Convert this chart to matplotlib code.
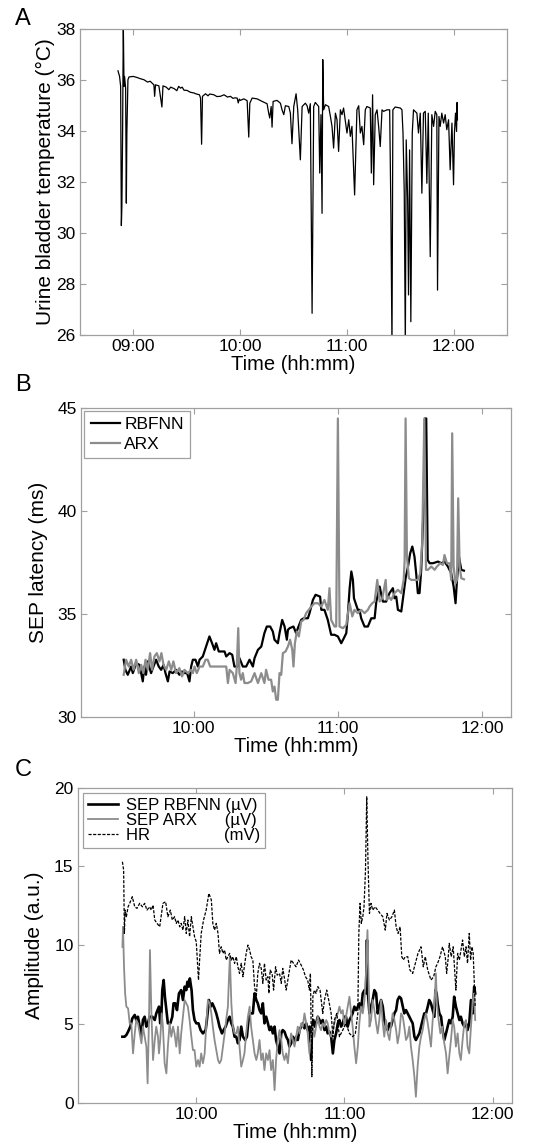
import numpy as np
import matplotlib
matplotlib.use("Agg")
import matplotlib.pyplot as plt
from matplotlib.ticker import FuncFormatter

plt.rcParams['font.family'] = ['Liberation Sans', 'DejaVu Sans']

# ---- panel A: urine bladder temperature (time in minutes after 08:00) ----
a_min = [51.4, 52.3, 52.9, 53.3, 53.6, 54.0, 54.4, 54.8, 55.1, 55.7, 56.1, 56.4, 57.0, 57.6,
         60.0, 62.0, 64.0, 66.0, 68.0, 69.5, 71.0, 71.6, 72.0, 72.5, 74.4, 76.1, 76.7, 78.5,
         80.0, 81.0, 83.0, 84.5, 85.5, 86.6, 87.5, 88.5, 90.3, 92.0, 94.1, 95.5, 97.2,
         97.8, 98.4, 98.9, 100.6, 102.0, 103.0, 105.3, 107.0, 109.0, 111.0, 113.0, 114.6,
         116.0, 117.2, 118.4, 119.0, 119.6, 120.2, 122.1, 124.0, 124.9, 125.5,
         126.8, 129.6, 133.3, 135.2, 136.1, 136.7, 137.5, 138.0, 138.6, 140.8, 142.7, 143.6,
         144.6, 145.5, 147.4, 148.3, 149.2, 150.2, 151.5, 152.4, 153.9, 154.9, 156.7, 157.7,
         158.6, 159.5, 160.5, 161.4, 162.3, 164.2, 164.8, 165.5, 166.1, 166.5, 167.0, 168.0,
         169.8, 170.8, 171.7, 172.6, 173.6, 174.5, 175.4, 176.4, 177.3, 178.2, 180.1, 181.1,
         182.0, 182.9, 184.4, 185.0, 185.7, 186.7, 187.6, 188.5, 189.5, 190.4, 191.3, 193.2,
         193.8, 194.5, 195.1, 196.0, 197.0, 197.9, 198.8, 199.8, 200.7, 202.6, 204.1, 204.8,
         205.4, 205.9, 207.2, 210.1, 211.0, 211.6, 212.3, 212.9, 213.4, 214.2, 214.7, 215.3,
         216.0, 216.8, 217.5, 219.4, 220.3, 221.3, 222.2, 223.1, 224.1, 225.0, 225.8, 226.9,
         227.8, 228.8, 229.7, 230.6, 231.0, 231.8, 232.5, 233.4, 234.4, 235.3, 236.2, 237.2,
         238.1, 239.1, 240.0, 240.5, 241.1, 241.7, 242.0, 242.2]
a_temp = [36.36, 36.14, 35.75, 30.29, 31.04, 33.92, 38.2, 35.75, 36.14, 35.68, 31.17, 33.92, 36.01, 36.12,
          36.14, 36.10, 36.05, 36.01, 35.92, 35.95, 35.85, 35.81, 35.36, 35.81, 35.77, 34.94, 35.77, 35.72,
          35.62, 35.72, 35.66, 35.58, 35.75, 35.68, 35.72, 35.60, 35.59, 35.52, 35.49, 35.45, 35.42,
          35.29, 33.48, 35.36, 35.46, 35.38, 35.45, 35.42, 35.35, 35.36, 35.42, 35.33, 35.36,
          35.28, 35.30, 35.29, 35.10, 35.25, 35.20, 35.26, 35.19, 33.76, 35.09,
          35.29, 35.26, 35.13, 35.07, 34.70, 34.51, 34.96, 34.15, 35.16, 35.20, 35.09, 34.83,
          34.64, 34.99, 34.96, 34.70, 33.50, 34.96, 35.46, 34.83, 32.87, 34.96, 35.09, 34.99,
          34.70, 35.07, 26.85, 34.96, 35.12, 34.96, 32.35, 34.64, 30.77, 36.80, 34.83, 35.03,
          34.96, 34.57, 34.18, 33.33, 34.70, 34.44, 33.20, 34.83, 34.64, 34.90, 33.92, 34.44,
          33.79, 34.18, 31.49, 33.00, 34.83, 34.99, 33.92, 34.18, 33.46, 34.83, 34.96, 34.90,
          32.35, 35.42, 31.89, 34.64, 34.83, 34.18, 33.39, 34.83, 34.77, 34.83, 34.83, 30.77,
          25.5, 34.83, 34.94, 34.90, 34.83, 33.92, 31.56, 25.5, 33.65, 31.30, 27.57, 33.26,
          26.52, 33.92, 34.83, 34.70, 33.92, 34.70, 31.56, 34.70, 34.77, 31.95, 34.70, 29.07,
          34.64, 34.18, 34.77, 34.64, 27.76, 34.57, 34.18, 34.70, 34.31, 34.64, 34.05, 34.44,
          32.48, 34.31, 31.89, 33.92, 34.70, 33.98, 35.12, 34.44]

# ---- panel B: SEP latency (time in minutes after 09:00) ----
b_rbf_min = [30.8, 31.5, 32.5, 33.9, 34.6, 36.0, 37.4, 38.75, 39.4, 40.1, 40.8, 42.2, 43.2, 44.3,
             45.4, 46.4, 47.4, 48.2, 49.2, 49.9, 51.25, 52.6, 54.0, 55.1, 56.1, 57.2, 58.2, 58.9,
             59.6, 60.7, 61.7, 62.4, 63.75, 65.1, 66.5, 67.6, 68.6, 69.3, 70.4, 71.4, 72.8, 73.5,
             74.9, 76.0, 76.9, 78.3, 79.0, 80.4, 81.8, 83.2, 84.6, 85.3, 86.7, 88.1, 89.4, 90.4,
             91.8, 92.9, 93.6, 95.0, 95.7, 96.8, 97.8, 98.75, 99.2, 99.9, 101.5, 102.6, 103.6,
             104.7, 105.7, 107.5, 108.2, 108.9, 109.6, 110.7, 112.6, 113.1, 114.4, 115.8, 117.2,
             118.6, 120.0, 121.4, 122.5, 123.5, 124.2, 124.9, 125.6, 126.25, 126.7, 127.4, 128.3,
             129.0, 129.7, 131.1, 132.5, 133.9, 135.3, 136.0, 137.4, 138.1, 138.75, 140.1, 141.5,
             142.9, 143.6, 144.3, 145.0, 146.4, 147.1, 148.2, 149.2, 150.1, 151.0, 151.9, 152.6,
             153.3, 154.0, 154.7, 155.7, 156.25, 156.8, 157.4, 158.2, 159.6, 161.7, 163.1, 164.4,
             165.8, 167.2, 168.2, 169.0, 169.6, 170.4, 171.4, 172.5]
b_rbf = [32.78, 32.29, 32.05, 32.45, 32.13, 32.61, 32.53, 31.73, 32.45, 32.05, 32.70, 32.13, 32.45, 32.78,
         32.45, 32.29, 32.53, 32.13, 31.73, 32.21, 32.13, 32.29, 32.05, 32.21, 32.13, 32.13, 31.73, 32.45,
         32.78, 32.78, 32.45, 32.78, 32.94, 33.42, 33.91, 33.58, 33.26, 33.58, 33.18, 33.18, 33.18, 32.94,
         33.10, 33.02, 32.45, 32.45, 32.86, 32.45, 32.45, 32.78, 32.45, 32.86, 33.26, 33.42, 34.07, 34.39,
         34.39, 34.15, 33.75, 33.58, 34.07, 34.71, 34.39, 33.75, 34.23, 34.31, 34.39, 34.07, 34.39,
         34.71, 34.79, 34.79, 35.04, 35.36, 35.68, 35.93, 35.84, 35.20, 35.20, 34.71, 33.99,
         33.99, 33.91, 33.58, 33.83, 34.07, 35.04, 36.25, 37.06, 36.65, 35.76, 35.52, 35.20,
         35.20, 34.79, 34.39, 34.39, 34.79, 34.79, 35.60, 36.33, 35.93, 35.60, 35.60, 36.01,
         36.25, 35.76, 35.84, 35.20, 35.12, 35.76, 36.73, 37.30, 37.94, 38.27, 37.78, 36.97,
         36.01, 36.01, 37.14, 40.20, 44.48, 44.48, 37.62, 37.46, 37.46, 37.54, 37.46, 37.54,
         37.30, 36.97, 36.33, 35.52, 36.65, 37.78, 37.14, 37.10]
b_arx_min = [30.8, 31.8, 32.9, 33.9, 34.9, 36.0, 37.1, 38.1, 39.0, 39.9, 40.8, 41.8, 42.6, 43.6,
             44.6, 45.7, 46.5, 47.4, 48.5, 49.6, 50.6, 51.5, 52.6, 54.0, 55.1, 56.1, 57.5, 58.9,
             59.6, 60.3, 61.25, 62.4, 63.75, 64.9, 65.8, 66.8, 67.9, 70.7, 73.5, 74.2, 74.9, 76.25,
             77.4, 77.9, 78.5, 79.0, 79.7, 80.4, 81.1, 82.5, 83.9, 85.3, 86.7, 88.1, 89.4, 90.1,
             91.1, 92.2, 92.9, 93.6, 94.3, 95.0, 95.7, 96.4, 97.1, 98.2, 99.2, 100.1, 101.0, 101.5,
             102.1, 102.9, 103.75, 104.7, 105.7, 106.8, 107.9, 108.9, 110.3, 111.7, 113.1, 114.4,
             115.8, 116.5, 117.2, 118.6, 119.3, 120.0, 120.7, 122.1, 123.5, 124.2, 124.9, 126.0,
             126.9, 128.3, 129.7, 131.1, 132.5, 133.2, 134.3, 135.3, 136.4, 137.4, 138.5, 139.9,
             140.4, 141.25, 142.2, 143.6, 145.0, 146.4, 147.4, 147.8, 148.2, 148.75, 149.6, 150.6,
             151.9, 153.3, 154.3, 155.1, 156.0, 156.7, 157.5, 158.9, 160.3, 161.25, 162.6, 163.75,
             164.4, 165.4, 166.5, 167.2, 167.6, 168.2, 169.0, 169.6, 170.1, 170.7, 171.4, 172.5]
b_arx = [32.05, 32.78, 32.45, 32.78, 32.29, 32.78, 32.13, 32.53, 32.13, 32.78, 32.29, 33.10, 32.29, 32.94,
         33.10, 32.70, 33.10, 32.53, 32.29, 32.70, 32.29, 32.70, 32.13, 32.37, 31.97, 32.29, 32.13, 32.29,
         32.13, 32.45, 32.13, 32.45, 32.45, 32.78, 32.78, 32.45, 32.45, 32.45, 32.45, 31.65, 32.29, 32.13,
         31.65, 32.45, 34.31, 32.13, 31.81, 32.13, 31.65, 31.65, 31.73, 32.13, 31.65, 32.13, 31.65, 32.29,
         31.81, 31.81, 31.24, 31.48, 30.84, 30.84, 32.13, 32.05, 33.10, 33.18, 33.42, 33.75, 33.26, 32.45,
         33.58, 34.15, 33.91, 34.63, 34.71, 35.04, 35.20, 35.36, 35.52, 35.52, 35.36, 35.68,
         35.20, 36.25, 34.71, 34.39, 34.39, 44.48, 34.39, 34.31, 34.47, 35.04, 35.52, 34.88,
         35.20, 35.04, 35.20, 35.04, 35.20, 35.36, 35.52, 35.60, 36.65, 35.60, 35.76, 36.65,
         35.68, 35.84, 35.68, 36.01, 36.17, 36.01, 36.65, 37.62, 44.48, 37.78, 36.73, 36.65,
         36.65, 36.65, 36.97, 38.43, 44.48, 37.14, 37.14, 37.30, 37.14, 37.30, 37.46, 37.38,
         37.86, 37.46, 37.46, 36.65, 43.76, 37.30, 36.49, 36.65, 40.61, 37.30, 36.73, 36.68]

# ---- panel C: amplitudes (time in minutes after 09:00) ----
c_hr_min = [30.1, 30.6, 30.9, 31.2, 31.7, 32.4, 33.05, 34.1, 35.1, 36.0, 37.1, 38.2, 39.1, 40.05,
            41.1, 41.8, 42.5, 43.2, 44.1, 45.2, 46.5, 47.6, 48.5, 49.5, 50.3, 51.2, 51.9, 52.6,
            53.3, 53.9, 54.6, 55.3, 55.95, 56.6, 57.3, 58.0, 58.65, 59.3, 60.0, 60.9, 61.35, 62.0,
            62.95, 64.0, 65.1, 66.1, 66.7, 67.4, 68.1, 68.8, 69.4, 70.1, 70.8, 71.5, 72.1, 73.5,
            74.2, 74.8, 75.5, 76.2, 76.85, 77.5, 78.2, 78.9, 80.2, 80.9, 81.6, 82.2, 82.9, 83.6,
            84.3, 84.9, 85.6, 86.3, 86.95, 87.6, 88.3, 89.0, 89.4, 89.9, 90.7, 91.3, 92.1, 92.75,
            93.7, 94.4, 95.0, 95.7, 96.4, 97.5, 98.4, 99.35, 100.4, 101.4, 102.45, 103.4, 104.2,
            105.1, 105.8, 106.2, 106.8, 107.2, 107.8, 108.5, 109.2, 110.1, 111.2, 111.9, 112.8,
            113.6, 114.6, 115.3, 115.9, 116.9, 117.95, 119.3, 120.6, 122.0, 123.3, 124.4, 125.4,
            125.8, 126.3, 126.8, 127.4, 127.9, 128.5, 129.0, 129.5, 130.1, 130.75, 131.4, 132.4,
            133.45, 134.4, 135.5, 136.5, 137.2, 138.2, 139.2, 140.2, 140.9, 141.7, 142.5, 143.2,
            143.8, 144.6, 145.6, 146.5, 147.6, 148.7, 149.75, 150.97, 151.9, 152.7, 153.7, 155.0,
            156.1, 157.0, 157.7, 158.65, 159.7, 160.8, 161.35, 161.9, 162.4, 163.2, 164.0, 165.1,
            165.8, 166.5, 167.8, 168.5, 169.2, 169.8, 170.5, 171.05, 171.6, 172.1, 172.7, 172.9]
c_hr = [15.3, 14.77, 10.75, 12.23, 11.81, 12.44, 12.66, 13.08, 12.44, 12.34, 12.66, 12.44, 12.66, 12.23,
        12.44, 12.23, 12.55, 11.6, 11.39, 11.17, 12.66, 12.76, 11.81, 12.23, 11.6, 11.81, 11.39, 11.6,
        11.17, 11.39, 10.96, 11.81, 10.75, 11.6, 10.54, 11.81, 11.17, 10.54, 10.22, 7.79, 9.06, 10.75,
        11.6, 12.23, 13.29, 12.87, 11.39, 10.96, 11.39, 10.75, 9.48, 9.9, 9.48, 9.69, 9.06, 9.48,
        9.06, 9.27, 8.85, 9.27, 8.63, 8.21, 8.85, 8.0, 9.48, 10.01, 9.69, 9.27, 9.06, 7.37,
        6.73, 8.21, 8.85, 8.53, 7.58, 8.85, 7.79, 8.0, 6.94, 8.42, 8.21, 7.15, 8.63, 8.1,
        8.21, 7.58, 8.53, 7.89, 7.15, 8.21, 9.06, 8.85, 8.63, 9.06, 8.74, 8.42, 8.0,
        7.79, 7.15, 8.21, 1.65, 6.73, 7.15, 6.94, 7.37, 7.15, 5.67, 6.52, 7.15,
        6.52, 5.67, 4.19, 5.25, 5.67, 4.19, 4.61, 5.04, 4.4, 4.19, 4.4, 5.67,
        10.75, 12.66, 11.39, 11.81, 12.44, 14.77, 19.43, 15.41, 12.02, 12.66, 12.23, 12.44,
        12.23, 12.02, 11.81, 10.96, 12.02, 11.6, 11.81, 12.23, 11.17, 10.75, 11.17, 9.27,
        9.06, 9.27, 9.27, 8.42, 8.21, 8.85, 9.48, 9.9, 8.63, 9.27, 8.42, 7.79,
        8.0, 8.63, 8.85, 9.27, 9.9, 9.27, 8.21, 9.06, 10.12, 9.27, 9.9, 7.15,
        9.48, 9.06, 10.33, 9.27, 9.9, 8.85, 10.75, 9.06, 9.9, 9.48, 6.94, 6.1]
c_rbf_min = [30.1, 31.0, 31.7, 32.4, 33.3, 34.1, 35.1, 35.7, 36.4, 37.1, 37.8, 38.4, 39.1, 39.8,
             40.45, 41.1, 42.2, 43.2, 43.8, 44.9, 45.4, 45.85, 46.25, 46.8, 47.3, 47.9, 48.5, 49.5,
             50.3, 50.8, 51.5, 52.2, 53.0, 53.9, 54.6, 55.3, 55.95, 56.4, 56.9, 57.4, 58.1, 58.65,
             59.3, 60.0, 60.9, 61.75, 62.7, 63.8, 64.3, 65.1, 65.8, 66.5, 67.4, 68.1, 68.8, 69.4,
             70.4, 71.05, 71.9, 72.8, 73.5, 74.2, 74.8, 75.5, 76.2, 76.85, 77.5, 78.2, 78.9, 79.8,
             80.5, 81.0, 81.6, 82.2, 82.9, 83.6, 84.3, 84.9, 85.6, 86.3, 86.95, 87.6, 88.3, 89.0,
             89.65, 90.3, 91.0, 91.7, 92.3, 93.0, 93.7, 94.4, 95.0, 95.7, 96.4, 97.1, 97.7, 98.4,
             99.1, 99.75, 100.4, 101.1, 101.8, 102.45, 103.1, 103.8, 104.5, 105.1, 105.8, 106.5,
             106.9, 107.4, 108.0, 108.5, 109.2, 109.9, 110.5, 111.2, 111.9, 112.6, 113.2, 113.9,
             114.6, 115.3, 115.9, 116.6, 117.3, 117.95, 118.6, 119.3, 120.0, 120.6, 121.3, 122.0,
             122.7, 123.3, 124.0, 124.7, 125.4, 126.0, 126.7, 127.4, 128.1, 128.7, 129.1, 129.5,
             130.1, 130.75, 131.4, 132.1, 132.8, 133.45, 134.1, 134.8, 135.5, 136.1, 136.8, 137.5,
             138.2, 138.8, 139.5, 140.2, 140.9, 141.5, 142.2, 142.9, 143.6, 144.2, 144.9, 145.6,
             146.25, 146.9, 147.6, 148.3, 148.9, 149.6, 150.3, 150.97, 151.65, 152.3, 153.0, 153.7,
             154.3, 155.0, 155.7, 156.4, 156.8, 157.3, 157.7, 158.4, 159.1, 159.7, 160.4, 161.1,
             161.75, 162.4, 163.1, 163.8, 164.4, 165.1, 165.8, 166.5, 167.1, 167.8, 168.5, 169.2,
             169.8, 170.5, 171.2, 171.9, 172.5, 172.9]
c_rbf = [4.19, 4.19, 4.3, 4.51, 4.83, 5.35, 5.57, 5.25, 5.46, 4.83, 4.19, 5.25, 5.46, 4.83,
         5.04, 5.46, 5.46, 5.25, 5.67, 6.1, 5.04, 5.46, 7.15, 7.79, 6.73, 5.88, 5.04, 5.04,
         5.46, 6.31, 6.31, 5.88, 6.94, 7.15, 6.52, 7.37, 7.15, 7.68, 7.37, 7.89, 7.15, 5.88,
         5.25, 5.04, 5.04, 4.61, 4.4, 4.61, 5.25, 6.52, 6.1, 6.31, 5.99, 5.67, 5.25, 4.83,
         4.4, 4.61, 4.83, 5.25, 5.46, 5.04, 4.83, 4.19, 4.19, 3.77, 3.98, 4.83, 4.19, 3.98,
         4.19, 5.04, 5.67, 5.67, 5.67, 6.94, 6.52, 6.31, 5.88, 5.67, 6.31, 5.04, 5.46, 5.04,
         4.61, 4.83, 4.4, 4.83, 3.98, 3.56, 3.13, 4.4, 4.61, 4.51, 4.19, 3.98, 3.56, 3.77,
         4.19, 3.77, 4.19, 3.98, 4.61, 4.83, 5.04, 4.72, 5.04, 4.61, 4.83, 2.71,
         4.83, 5.25, 4.83, 5.04, 5.46, 5.25, 5.04, 5.25, 4.61, 4.83, 4.4, 4.51,
         4.19, 3.13, 3.98, 4.4, 5.04, 5.25, 4.83, 5.04, 5.46, 5.46, 4.83, 5.25,
         5.46, 5.67, 6.1, 5.88, 6.1, 6.31, 5.88, 6.94, 7.15, 6.94, 10.33, 6.94,
         5.67, 6.1, 6.52, 7.15, 6.94, 5.67, 6.1, 6.52, 6.1, 5.25, 4.83, 4.61,
         5.04, 4.83, 5.25, 5.67, 5.88, 6.52, 6.73, 6.62, 6.1, 5.67, 5.88, 5.67,
         5.46, 5.25, 5.04, 4.19, 3.98, 4.19, 4.4, 4.83, 5.25, 5.67, 5.67, 6.1,
         6.52, 6.31, 5.88, 5.46, 7.15, 6.94, 6.31, 5.67, 5.46, 4.61, 3.98, 4.4,
         4.83, 5.25, 5.04, 5.46, 6.73, 6.1, 5.67, 5.25, 5.46, 5.04, 4.83, 5.04,
         4.61, 5.04, 6.52, 5.67, 7.37, 6.94]
c_arx_min = [30.1, 30.35, 30.75, 31.2, 31.7, 32.4, 33.05, 33.7, 34.4, 35.1, 35.7, 36.4, 37.1, 37.8,
             38.4, 39.1, 39.8, 40.3, 40.9, 41.25, 41.8, 42.5, 43.2, 43.8, 44.5, 44.9, 45.4, 46.0,
             46.5, 47.2, 47.9, 48.5, 49.2, 49.9, 50.6, 51.2, 51.9, 52.6, 53.3, 53.9, 54.6, 55.3,
             55.95, 56.6, 57.3, 58.0, 58.65, 59.3, 60.0, 60.7, 61.35, 62.0, 62.7, 63.4, 64.0, 64.7,
             65.4, 66.1, 66.7, 67.4, 68.1, 68.8, 69.4, 70.1, 70.8, 71.5, 72.1, 72.8, 73.2, 73.6,
             74.2, 74.8, 75.5, 76.2, 76.85, 77.5, 78.2, 78.9, 79.5, 80.2, 80.9, 81.6, 82.2, 82.9,
             83.6, 84.3, 84.9, 85.6, 86.3, 86.95, 87.6, 88.3, 89.0, 89.65, 90.3, 91.0, 91.7, 92.3,
             93.0, 93.7, 94.4, 95.0, 95.7, 96.4, 97.1, 97.7, 98.4, 99.1, 99.75, 100.4, 101.1, 101.8,
             102.45, 103.1, 103.8, 104.5, 105.1, 105.8, 106.5, 107.2, 107.8, 108.5, 109.2, 109.9,
             110.5, 111.2, 111.9, 112.6, 113.2, 113.9, 114.6, 115.3, 115.9, 116.6, 117.3, 117.95,
             118.6, 119.3, 120.0, 120.6, 121.3, 122.0, 122.7, 123.3, 124.0, 124.7, 125.4, 126.0,
             126.7, 127.4, 128.1, 128.7, 129.3, 129.7, 130.1, 130.75, 131.4, 132.1, 132.8, 133.45,
             134.1, 134.8, 135.5, 136.1, 136.8, 137.5, 138.2, 138.8, 139.5, 140.2, 140.9, 141.5,
             142.2, 142.9, 143.6, 144.2, 144.9, 145.6, 146.25, 146.9, 147.6, 148.3, 148.9, 149.6,
             150.3, 150.97, 151.65, 152.3, 153.0, 153.7, 154.3, 155.0, 155.7, 156.4, 157.0, 157.4,
             158.1, 158.8, 159.5, 160.4, 161.1, 161.75, 162.4, 163.1, 163.8, 164.4, 165.1, 165.8,
             166.5, 167.1, 167.8, 168.5, 169.2, 169.8, 170.5, 171.2, 171.9, 172.5, 172.9]
c_arx = [9.9, 11.17, 8.63, 6.94, 6.1, 5.99, 5.04, 5.04, 3.13, 4.4, 5.25, 5.04, 4.4, 3.77,
         4.83, 4.19, 3.56, 1.23, 5.67, 9.69, 5.88, 2.71, 3.98, 4.83, 4.19, 3.13, 3.98, 5.67,
         4.83, 2.5, 1.86, 3.56, 5.04, 4.19, 4.83, 4.4, 3.56, 4.83, 3.13, 4.4, 5.46, 6.52,
         6.31, 6.1, 5.25, 4.19, 3.34, 3.34, 2.29, 2.71, 2.29, 3.13, 2.5, 3.13, 4.83, 6.52,
         6.31, 5.67, 4.83, 3.98, 3.34, 2.71, 2.5, 2.71, 3.56, 4.4, 5.25, 6.1, 7.79, 9.27,
         6.31, 4.83, 4.4, 4.4, 4.83, 3.56, 2.29, 2.71, 3.13, 4.4, 5.46, 6.1, 4.83, 3.98,
         3.13, 2.71, 3.13, 3.98, 2.71, 3.13, 2.07, 3.13, 2.71, 3.34, 2.07, 2.71, 0.8, 2.71,
         3.98, 4.61, 3.98, 3.13, 2.71, 3.13, 2.5, 3.56, 4.4, 3.98, 3.56, 4.19, 4.83, 4.4,
         5.04, 4.83, 5.67, 5.04, 4.4, 3.13, 4.19, 4.83, 4.19, 4.83, 5.46, 4.83,
         4.61, 5.04, 4.83, 5.25, 5.04, 4.4, 4.19, 4.61, 5.04, 5.46, 5.67, 6.1,
         5.67, 5.88, 4.83, 5.46, 6.1, 6.73, 5.67, 4.83, 3.56, 2.5, 3.56, 5.04,
         6.1, 5.67, 6.52, 8.21, 10.96, 8.21, 4.83, 5.25, 6.52, 5.88, 5.04, 4.4,
         5.25, 6.52, 5.04, 4.19, 5.25, 4.4, 3.98, 4.83, 5.67, 5.25, 4.61, 3.77,
         4.4, 5.67, 5.46, 4.83, 3.98, 4.19, 4.83, 3.56, 2.71, 1.65, 0.38, 2.29,
         3.56, 4.19, 4.61, 5.25, 5.67, 5.04, 4.4, 3.56, 5.25, 6.1, 8.21, 6.31,
         5.25, 4.4, 4.83, 3.77, 3.13, 1.86, 2.92, 3.98, 5.25, 4.83, 3.56, 4.4,
         3.13, 2.71, 3.98, 5.04, 5.25, 3.56, 3.13, 4.83, 6.52, 6.94, 5.25]

GRAY = '#8c8c8c'
SPINE = '#a0a0a0'


def hhmm(x, pos):
    return '%02d:00' % int(round(x))


def style_axes(ax, ticks):
    for s in ax.spines.values():
        s.set_color(SPINE)
        s.set_linewidth(0.9)
    ax.tick_params(direction='in', top=True, right=True, length=4, width=0.8,
                   color=SPINE, labelsize=12.5, pad=3)
    ax.set_xticks(ticks)
    ax.xaxis.set_major_formatter(FuncFormatter(hhmm))


fig = plt.figure(figsize=(5.51, 11.46), dpi=100)

# panel A
axA = fig.add_axes([0.145, 0.7077, 0.775, 0.267])
axA.plot(8 + np.array(a_min) / 60, a_temp, color='black', lw=0.9)
axA.set_xlim(8.5, 12.5)
axA.set_ylim(26, 38)
axA.set_yticks([26, 28, 30, 32, 34, 36, 38])
style_axes(axA, [9, 10, 11, 12])
axA.set_xlabel('Time (hh:mm)', fontsize=14.5, labelpad=0.5)
axA.set_ylabel('Urine bladder temperature (°C)', fontsize=15, labelpad=1)

# panel B
axB = fig.add_axes([0.147, 0.3743, 0.780, 0.2699])
axB.plot(9 + np.array(b_rbf_min) / 60, b_rbf, color='black', lw=1.6, label='RBFNN')
axB.plot(9 + np.array(b_arx_min) / 60, b_arx, color=GRAY, lw=1.6, label='ARX')
axB.set_xlim(9.217, 12.2)
axB.set_ylim(30, 45)
axB.set_yticks([30, 35, 40, 45])
style_axes(axB, [10, 11, 12])
axB.set_xlabel('Time (hh:mm)', fontsize=14.5, labelpad=0.5)
axB.set_ylabel('SEP latency (ms)', fontsize=15, labelpad=7)
legB = axB.legend(loc='upper left', fontsize=12.5, handlelength=1.7, handletextpad=0.25,
                  borderaxespad=0.2, fancybox=False, framealpha=1, borderpad=0.35,
                  labelspacing=0.25)
legB.get_frame().set_edgecolor(SPINE)
legB.get_frame().set_linewidth(0.9)

# panel C
axC = fig.add_axes([0.141, 0.0378, 0.789, 0.2748])
axC.plot(9 + np.array(c_rbf_min) / 60, c_rbf, color='black', lw=1.9,
         label='SEP RBFNN (\u00b5V)')
axC.plot(9 + np.array(c_arx_min) / 60, c_arx, color=GRAY, lw=1.3,
         label='SEP ARX' + ' ' * 6 + '(\u00b5V)')
axC.plot(9 + np.array(c_hr_min) / 60, c_hr, color='black', lw=0.9, dashes=(2.5, 1.2),
         label='HR' + ' ' * 16 + '(mV)')
axC.set_xlim(9.2, 12.133)
axC.set_ylim(0, 20)
axC.set_yticks([0, 5, 10, 15, 20])
style_axes(axC, [10, 11, 12])
axC.set_xlabel('Time (hh:mm)', fontsize=14.5, labelpad=0.5)
axC.set_ylabel('Amplitude (a.u.)', fontsize=15, labelpad=7)
legC = axC.legend(loc='upper left', fontsize=12, handlelength=1.8, handletextpad=0.5,
                  borderaxespad=0.3, fancybox=False, framealpha=1, borderpad=0.3,
                  labelspacing=0.0)
legC.get_frame().set_edgecolor(SPINE)
legC.get_frame().set_linewidth(0.9)

# panel letters
fig.text(0.027, 0.978, 'A', fontsize=17)
fig.text(0.027, 0.659, 'B', fontsize=17)
fig.text(0.027, 0.323, 'C', fontsize=17)

fig.savefig('out.png', dpi=100)
